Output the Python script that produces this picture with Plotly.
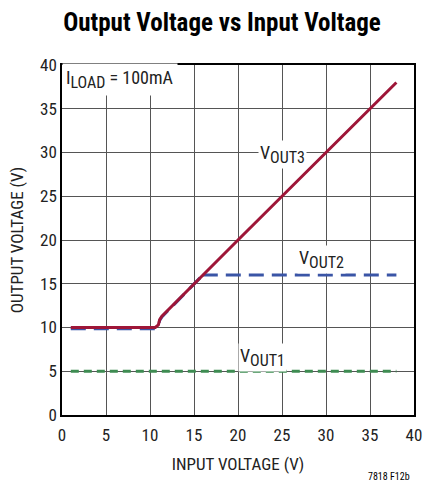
import plotly.graph_objects as go

# Data
vin3 = [1, 10.6, 10.95, 11.1, 11.35, 15, 20, 25, 30, 35, 38]
vout3 = [10, 10, 10.3, 10.9, 11.3, 15, 20, 25, 30, 35, 38]
vin2 = [1, 10.6, 10.95, 11.1, 11.35, 16, 38]
vout2 = [9.85, 9.85, 10.2, 10.8, 11.2, 16, 16]
vin1 = [1, 38]
vout1 = [5, 5]
xticks = [0, 5, 10, 15, 20, 25, 30, 35, 40]
yticks = [0, 5, 10, 15, 20, 25, 30, 35, 40]

FONT = "Liberation Sans Narrow, Roboto Condensed, Liberation Sans, Arial"

fig = go.Figure()
fig.add_trace(go.Scatter(x=vin1, y=vout1, mode="lines",
                         line=dict(color="#3e8c52", width=3, dash="8px,5px")))
# VOUT2: ramp portion (under VOUT3) and flat regulated portion
fig.add_trace(go.Scatter(x=vin2[:-1], y=vout2[:-1], mode="lines",
                         line=dict(color="#3a55a6", width=3, dash="15px,8px")))
fig.add_trace(go.Scatter(x=vin2[-2:], y=vout2[-2:], mode="lines",
                         line=dict(color="#3a55a6", width=3, dash="15px,8px")))
fig.add_trace(go.Scatter(x=vin3, y=vout3, mode="lines",
                         line=dict(color="#9e1638", width=3)))

tick_font = dict(size=17, color="#222222", family=FONT)
axis_common = dict(showline=True, linecolor="black", linewidth=1.5, mirror=True,
                   showgrid=True, gridcolor="#555555", gridwidth=1,
                   zeroline=False, ticks="", tickfont=tick_font, automargin=False)
fig.update_xaxes(range=[0, 40], tickvals=xticks, **axis_common, ticklabelstandoff=4,
                 title=dict(text="INPUT VOLTAGE (V)", font=tick_font, standoff=14))
fig.update_yaxes(range=[0, 40], tickvals=yticks, **axis_common,
                 title=dict(text="OUTPUT VOLTAGE (V)", font=tick_font, standoff=12))

ann_font = dict(size=18, color="#222222", family=FONT)
def sub(main, s):
    return f"{main}<sub><span style='font-size:16px'>{s}</span></sub>"

fig.add_annotation(x=0, y=40, xref="x", yref="y", xanchor="left", yanchor="top",
                   text=sub("I", "LOAD") + " = 100mA", showarrow=False, font=ann_font,
                   bgcolor="white", borderpad=3, yshift=2)
fig.add_annotation(x=25.0, y=29.8, xref="x", yref="y", text=sub("V", "OUT3"),
                   showarrow=False, font=ann_font, bgcolor="white")
fig.add_annotation(x=29.5, y=17.8, xref="x", yref="y", text=sub("V", "OUT2"),
                   showarrow=False, font=ann_font, bgcolor="white")
fig.add_annotation(x=22.8, y=6.6, xref="x", yref="y", text=sub("V", "OUT1"),
                   showarrow=False, font=ann_font, bgcolor="white")
fig.add_annotation(x=1, y=0, xref="paper", yref="paper", xanchor="right", yanchor="middle",
                   xshift=-2, yshift=-61,
                   text="7818 F12b", showarrow=False, font=dict(size=10, color="black", family=FONT))

fig.update_layout(
    width=423, height=483,
    margin=dict(l=62, r=9, t=65, b=68),
    paper_bgcolor="white", plot_bgcolor="white",
    showlegend=False,
    title=dict(text="<b>Output Voltage vs Input Voltage</b>", x=222 / 423, xanchor="center",
               y=1 - 22 / 483, yanchor="middle",
               font=dict(size=25, color="black", family=FONT)),
)
fig.write_html("out.html", config={"displayModeBar": False},
               post_script="document.body.style.margin='0';document.body.style.overflow='hidden';")
